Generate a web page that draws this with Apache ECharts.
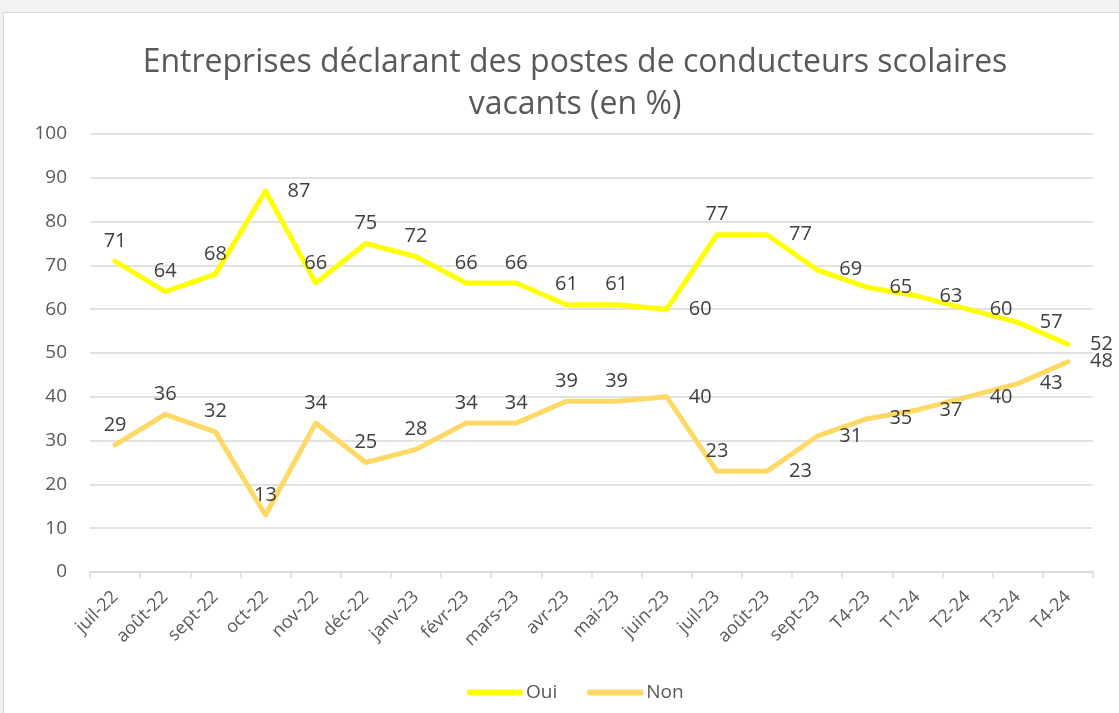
<!DOCTYPE html>
<html>
<head>
<meta charset="utf-8">
<script src="https://cdn.jsdelivr.net/npm/echarts@6/dist/echarts.min.js"></script>
<style>
  html, body { margin:0; padding:0; background:#f2f2f2; }
  #frame { position:absolute; left:3px; top:12px; width:1120px; height:705px; background:#fff; border:1px solid #d9d9d9; box-sizing:border-box; }
  #chart { position:absolute; left:-4px; top:-13px; width:1119px; height:713px; }
</style>
</head>
<body>
<div id="frame"><div id="chart"></div></div>
<script>
const categories = ['juil-22','août-22','sept-22','oct-22','nov-22','déc-22','janv-23','févr-23','mars-23','avr-23','mai-23','juin-23','juil-23','août-23','sept-23','T4-23','T1-24','T2-24','T3-24','T4-24']
const oui = [71, 64, 68, 87, 66, 75, 72, 66, 66, 61, 61, 60, 77, 77, 69, 65, 63, 60, 57, 52]
const non = [29, 36, 32, 13, 34, 25, 28, 34, 34, 39, 39, 40, 23, 23, 31, 35, 37, 40, 43, 48]

// label placement, as in the source sheet: t = above, r = right
const ouiPlace = 'tttrtttttttrtrrrrrrr'
const nonPlace = 'tttttttttttrtrrrrrrr'

const FONT = '"Open Sans", "Noto Sans", sans-serif'

function seriesData(values, place){
  return values.map((v, i) => ({
    value: v,
    label: place[i] === 'r'
      ? { position: 'right', distance: 22 }
      : { position: 'top', distance: 10, offset: [8, 0] },
  }))
}

function lineSeries(name, color, values, place){
  return {
    name,
    type: 'line',
    data: seriesData(values, place),
    showSymbol: true,
    symbol: 'circle',
    symbolSize: 0.1,
    lineStyle: { color, width: 5, join: 'round', cap: 'round' },
    itemStyle: { color },
    label: { show: true, color: '#404040', fontSize: 20, fontFamily: FONT },
    labelLayout: { hideOverlap: false },
    emphasis: { disabled: true },
  }
}

const chart = echarts.init(document.getElementById('chart'), null, { renderer: 'canvas' })
chart.setOption({
  animation: false,
  backgroundColor: 'transparent',
  title: {
    text: 'Entreprises déclarant des postes de conducteurs scolaires\nvacants (en %)',
    left: 570,
    textAlign: 'center',
    top: 37,
    textStyle: { color: '#595959', fontSize: 32, fontWeight: 'normal', fontFamily: FONT, lineHeight: 42 },
  },
  legend: {
    bottom: 6,
    left: 462,
    icon: 'roundRect',
    itemWidth: 56,
    itemHeight: 6,
    itemGap: 30,
    textStyle: { color: '#595959', fontSize: 19, fontFamily: FONT, padding: [0, 0, 0, -2] },
    data: ['Oui', 'Non'],
  },
  grid: { left: 90, right: 26, top: 134, bottom: 141, containLabel: false },
  xAxis: {
    type: 'category',
    data: categories,
    boundaryGap: true,
    axisLine: { lineStyle: { color: '#d9d9d9', width: 1.5 } },
    axisTick: { show: true, length: 6, lineStyle: { color: '#d9d9d9', width: 1.5 } },
    axisLabel: { rotate: 45, color: '#595959', fontSize: 18, fontFamily: FONT, margin: 22, interval: 0 },
  },
  yAxis: {
    type: 'value',
    min: 0,
    max: 100,
    interval: 10,
    axisLine: { show: false },
    axisTick: { show: false },
    splitLine: { lineStyle: { color: '#d9d9d9', width: 1.5 } },
    axisLabel: { color: '#595959', fontSize: 19, fontFamily: FONT, margin: 23 },
  },
  series: [
    lineSeries('Oui', '#ffff00', oui, ouiPlace),
    lineSeries('Non', '#ffd966', non, nonPlace),
  ],
})
</script>
</body>
</html>
